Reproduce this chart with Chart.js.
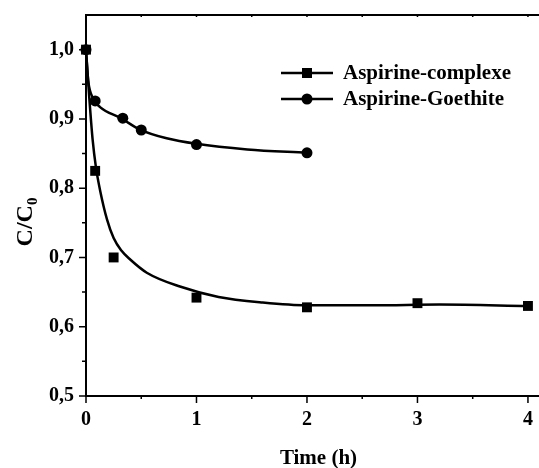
<!DOCTYPE html>
<html>
<head>
<meta charset="utf-8">
<script src="https://cdn.jsdelivr.net/npm/chart.js@4"></script>
<style>
  html, body { margin: 0; padding: 0; background: #fff; }
  #wrap { width: 539px; height: 468px; }
</style>
</head>
<body>
<div id="wrap"><canvas id="c-chart" width="539" height="468"></canvas></div>
<script>
// measured points
const timeComplexe = [0, 0.083, 0.25, 1, 2, 3, 4];
const cComplexe = [1.0, 0.825, 0.70, 0.642, 0.628, 0.634, 0.630];
const timeGoethite = [0, 0.083, 0.333, 0.5, 1, 2];
const cGoethite = [1.0, 0.926, 0.901, 0.884, 0.863, 0.851];

// fitted curves
const fitComplexeT = [0, 0.03, 0.06, 0.09, 0.13, 0.19, 0.25, 0.32, 0.40, 0.55, 0.85, 1.2, 1.6, 2.0, 2.6, 3.2, 4.0];
const fitComplexeC = [1.0, 0.93, 0.87, 0.83, 0.795, 0.755, 0.728, 0.71, 0.697, 0.678, 0.658, 0.643, 0.635, 0.631, 0.631, 0.632, 0.630];
const fitGoethiteT = [0, 0.01, 0.02, 0.066, 0.127, 0.317, 0.483, 0.73, 1.0, 1.46, 2.0];
const fitGoethiteC = [1.0, 0.975, 0.955, 0.929, 0.917, 0.901, 0.885, 0.872, 0.864, 0.856, 0.851];

const seriesNames = ['Aspirine-complexe', 'Aspirine-Goethite'];
const yTitle = 'C/C';
const yTitleSub = '0';
const xTitle = 'Time (h)';

const toXY = (xs, ys) => xs.map((x, i) => ({x: x, y: ys[i]}));
const fmt = v => v.toFixed(1).replace('.', ',');
const isStep = (v, s) => Math.abs(v / s - Math.round(v / s)) < 1e-6;

const FONT = '"Liberation Serif", "Times New Roman", serif';

let framePlugin = {
    id: 'frame',
    afterDraw(chart) {
        let ctx = chart.ctx;
        let a = chart.chartArea;
        let xs = chart.scales.x, ys = chart.scales.y;
        ctx.save();
        ctx.strokeStyle = '#000';
        ctx.lineWidth = 2;
        ctx.beginPath();
        ctx.moveTo(a.left, a.top); ctx.lineTo(a.right, a.top);
        ctx.moveTo(a.left, a.top - 1); ctx.lineTo(a.left, a.bottom + 1);
        ctx.moveTo(a.left - 1, a.bottom); ctx.lineTo(a.right, a.bottom);
        ctx.stroke();

        ctx.lineWidth = 1.5;
        ctx.beginPath();
        xs.ticks.forEach(t => {
            let px = xs.getPixelForValue(t.value);
            if (px > a.right - 2) return;
            let len = isStep(t.value, 1) ? 7 : 3;
            ctx.moveTo(px, a.bottom); ctx.lineTo(px, a.bottom + len);
            ctx.moveTo(px, a.top); ctx.lineTo(px, a.top + 2);
        });
        ys.ticks.forEach(t => {
            let py = ys.getPixelForValue(t.value);
            if (py < a.top + 2) return;
            let len = isStep(t.value, 0.1) ? 7 : 4;
            ctx.moveTo(a.left, py); ctx.lineTo(a.left - len, py);
        });
        ctx.stroke();

        ctx.fillStyle = '#000';
        // x title
        ctx.font = 'bold 21px ' + FONT;
        ctx.textAlign = 'center';
        ctx.textBaseline = 'middle';
        ctx.fillText(xTitle, (a.left + a.right) / 2 + 6, 459);

        // y title with subscript
        ctx.textAlign = 'left';
        ctx.textBaseline = 'alphabetic';
        ctx.translate(32, 222);
        ctx.rotate(-Math.PI / 2);
        ctx.font = 'bold 24px ' + FONT;
        let w1 = ctx.measureText(yTitle).width;
        ctx.font = 'bold 15px ' + FONT;
        let w2 = ctx.measureText(yTitleSub).width;
        let x0 = -(w1 + w2) / 2;
        ctx.font = 'bold 24px ' + FONT;
        ctx.fillText(yTitle, x0, 0);
        ctx.font = 'bold 15px ' + FONT;
        ctx.fillText(yTitleSub, x0 + w1, 5);
        ctx.restore();

        // legend: line + marker
        ctx.save();
        let rows = [73, 99];
        [2, 3].forEach((di, i) => {
            let ds = chart.data.datasets[di];
            let y = rows[i];
            ctx.strokeStyle = '#000';
            ctx.lineWidth = 2.5;
            ctx.beginPath();
            ctx.moveTo(281, y); ctx.lineTo(333, y);
            ctx.stroke();
            ctx.fillStyle = '#000';
            ctx.beginPath();
            if (ds.pointStyle === 'rect') {
                ctx.rect(307 - 5, y - 5, 10, 10);
            } else {
                ctx.arc(307, y, 5.5, 0, Math.PI * 2);
            }
            ctx.fill();
            ctx.font = 'bold 21px ' + FONT;
            ctx.textBaseline = 'middle';
            ctx.fillText(ds.label, 343, y + 1);
        });
        ctx.restore();
    }
};

let canvas = document.getElementById('c-chart');
let cChart = new Chart(canvas, {
    type: 'line',
    data: {
        datasets: [{
            label: seriesNames[0] + ' fit',
            data: toXY(fitComplexeT, fitComplexeC),
            borderColor: '#000',
            borderWidth: 2.5,
            pointRadius: 0,
            cubicInterpolationMode: 'monotone',
            fill: false
        }, {
            label: seriesNames[1] + ' fit',
            data: toXY(fitGoethiteT, fitGoethiteC),
            borderColor: '#000',
            borderWidth: 2.5,
            pointRadius: 0,
            cubicInterpolationMode: 'monotone',
            fill: false
        }, {
            label: seriesNames[0],
            data: toXY(timeComplexe, cComplexe),
            showLine: false,
            pointStyle: 'rect',
            pointRadius: 7,
            pointBackgroundColor: '#000',
            pointBorderWidth: 0
        }, {
            label: seriesNames[1],
            data: toXY(timeGoethite, cGoethite),
            showLine: false,
            pointStyle: 'circle',
            pointRadius: 5.5,
            pointBackgroundColor: '#000',
            pointBorderWidth: 0
        }]
    },
    options: {
        responsive: false,
        animation: false,
        clip: false,
        layout: { autoPadding: false, padding: { top: 15, right: 0, left: 0, bottom: 0 } },
        plugins: { legend: { display: false }, tooltip: { enabled: false } },
        scales: {
            x: {
                type: 'linear',
                min: 0,
                max: 4.1,
                grid: { display: false, drawTicks: false },
                border: { display: false },
                ticks: {
                    stepSize: 0.5,
                    includeBounds: false,
                    padding: 12,
                    color: '#000',
                    maxRotation: 0,
                    autoSkip: false,
                    font: { family: FONT, size: 20, weight: 'bold' },
                    callback: v => isStep(v, 1) ? String(Math.round(v)) : ''
                },
                afterFit: s => {
                    s.height = 72;
                    s.paddingLeft = 0; s.paddingRight = 0;
                }
            },
            y: {
                min: 0.5,
                max: 1.05,
                grid: { display: false, drawTicks: false },
                border: { display: false },
                ticks: {
                    stepSize: 0.05,
                    includeBounds: false,
                    padding: 12,
                    color: '#000',
                    autoSkip: false,
                    font: { family: FONT, size: 20, weight: 'bold' },
                    callback: v => (isStep(v, 0.1) && v < 1.04) ? fmt(v) : ''
                },
                afterFit: s => {
                    s.width = 86;
                    s.paddingTop = 0; s.paddingBottom = 0;
                }
            }
        }
    },
    plugins: [framePlugin]
});
window.cChart = cChart;
</script>
</body>
</html>
